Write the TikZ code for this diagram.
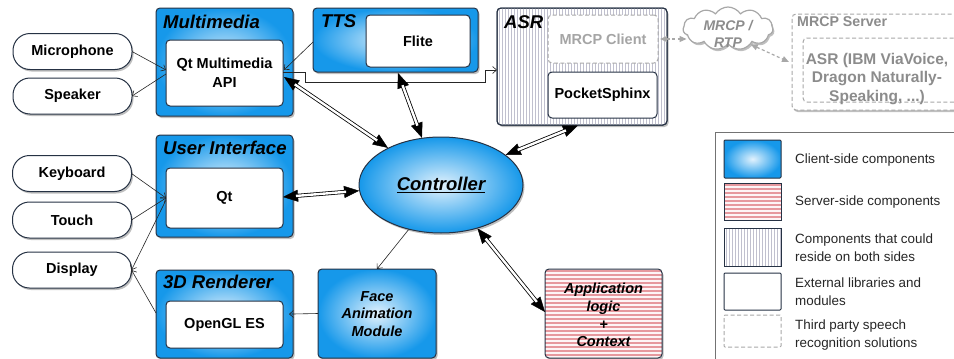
\documentclass[tikz,border=0pt]{standalone}
\usepackage{fontspec}
\setmainfont{Liberation Sans}
\usetikzlibrary{arrows.meta,shadows,shapes.symbols,shapes.geometric,calc}

\definecolor{bluedeep}{RGB}{22,152,234}
\definecolor{bluelight}{RGB}{226,242,253}
\definecolor{edgedark}{RGB}{38,50,68}
\definecolor{stripered}{RGB}{230,152,158}
\definecolor{pinkbase}{RGB}{253,244,246}
\definecolor{stripegray}{RGB}{192,192,206}
\definecolor{thirdgray}{RGB}{168,168,168}
\definecolor{thirdtext}{RGB}{140,140,140}
\definecolor{clienttext}{RGB}{165,165,165}

\tikzset{
  softshadow/.style={drop shadow={shadow xshift=1.5pt, shadow yshift=-2pt, opacity=0.25, fill=black}},
  boxbase/.style={inner sep=0pt, outer sep=0pt, rounded corners=4pt},
  clientbox/.style={boxbase, draw=edgedark, line width=1pt, shade, shading=radial,
    inner color=bluelight, outer color=bluedeep, softshadow},
  libbox/.style={boxbase, draw=edgedark, line width=1pt, fill=white, align=center,
    font=\bfseries\fontsize{14.5}{19}\selectfont},
  thirdbox/.style={boxbase, draw=thirdgray, line width=1pt, dash pattern=on 4pt off 2.5pt},
  pill/.style={draw=edgedark, line width=1pt, rounded corners=17pt, fill=white,
    inner sep=0pt, outer sep=0pt, minimum width=119pt, minimum height=36pt,
    font=\bfseries\fontsize{14.5}{17}\selectfont, softshadow},
  boxtitle/.style={anchor=west, inner sep=0pt, font=\bfseries\itshape\fontsize{18.5}{20}\selectfont},
  bodytext/.style={align=center, inner sep=0pt, font=\bfseries\itshape\fontsize{14.5}{17.8}\selectfont},
  legendtext/.style={anchor=west, align=left, inner sep=0pt, text=black!85,
    font=\fontsize{13.4}{18}\selectfont},
  thinarrow/.style={draw=black!85, line width=0.6pt,
    -{Straight Barb[length=4pt,width=7pt]}},
  % heads of a two-way link, on a hairline that the shaft hides
  tipline/.style={draw=black, line width=0.4pt,
    {Triangle[length=15pt,width=12pt]}-{Triangle[length=15pt,width=12pt]}},
  % hollow two-way shaft
  dblshaft/.style={draw=black, line width=0.8pt, double=white, double distance=2.4pt,
    shorten <=13pt, shorten >=13pt},
  grayarrow/.style={draw=thirdgray, line width=1.2pt, dash pattern=on 3pt off 2.5pt,
    {Triangle[length=7pt,width=6pt]}-{Triangle[length=7pt,width=6pt]}},
}
\newcommand{\biarrow}[2]{\draw[tipline] #1 -- #2; \draw[dblshaft] #1 -- #2;}

\begin{document}
\begin{tikzpicture}[x=1pt, y=-1pt]
\useasboundingbox (0,0) rectangle (954,359);
\fill[white] (0,0) rectangle (954,359);

% ---------- devices on the left ----------
\node[pill] (mic)   at (72.5,51.5) {Microphone};
\node[pill] (spk)   at (72.5,96)   {Speaker};
\node[pill] (kbd)   at (72,173.5)  {Keyboard};
\node[pill] (touch) at (72,220)    {Touch};
\node[pill] (disp)  at (72,270)    {Display};

% ---------- Multimedia ----------
\node[clientbox, minimum width=137pt, minimum height=108pt] (mm) at (224.5,62) {};
\node[boxtitle] (mmtitle) at (163,22) {Multimedia};
\node[libbox, minimum width=117pt, minimum height=66pt] (api) at (224.5,73) {Qt Multimedia\\API};

% ---------- TTS ----------
\node[clientbox, minimum width=165pt, minimum height=64pt] (tts) at (395.5,40) {};
\node[boxtitle] (ttstitle) at (321,21) {TTS};
\node[libbox, minimum width=104pt, minimum height=52pt] (flite) at (418,41) {Flite};

% ---------- ASR (striped) ----------
\node[boxbase, draw=edgedark, line width=1pt, fill=white, softshadow,
      minimum width=170pt, minimum height=117pt] (asr) at (582,66.5) {};
\begin{scope}
  \clip[rounded corners=4pt] (asr.south west) rectangle (asr.north east);
  \foreach \x in {499,502,...,667} \draw[stripegray, line width=0.8pt] (\x,8) -- (\x,126);
\end{scope}
\draw[edgedark, line width=1pt, rounded corners=4pt] (asr.south west) rectangle (asr.north east);
\node[boxtitle] (asrtitle) at (504,22) {ASR};
\node[thirdbox, fill=white, minimum width=110pt, minimum height=48pt,
      text=clienttext, font=\bfseries\fontsize{14.5}{17}\selectfont] (mrcpc) at (603,39) {MRCP Client};
\node[libbox, minimum width=109pt, minimum height=46pt] (sphinx) at (602.5,95) {PocketSphinx};

% ---------- MRCP / RTP cloud ----------
\node[cloud, cloud puffs=11, cloud puff arc=115, aspect=2.1, draw=thirdgray, line width=1.2pt,
      fill=white, softshadow, minimum width=90pt, minimum height=43pt, inner sep=0pt] (cloud) at (728,28.5) {};
\node[align=center, inner sep=0pt, text=thirdtext,
      font=\bfseries\itshape\fontsize{14}{17}\selectfont] (cloudtext) at ($(cloud.center)+(0,5)$) {MRCP /\\RTP};

% ---------- MRCP Server ----------
\node[thirdbox, fill=white, softshadow, minimum width=183pt, minimum height=96pt] (mrcps) at (883.5,62) {};
\node[anchor=west, inner sep=0pt, text=thirdtext,
      font=\bfseries\fontsize{14.2}{17}\selectfont] (mrcpstitle) at (797,22) {MRCP Server};
\node[thirdbox, minimum width=161pt, minimum height=64pt] (vendor) at (883.5,70) {};
\node[align=center, inner sep=0pt, text=thirdtext,
      font=\bfseries\fontsize{15.5}{18.5}\selectfont] (vendortext) at (877,79)
      {ASR (IBM ViaVoice,\\Dragon Naturally-\\Speaking, ...)};

% ---------- User Interface ----------
\node[clientbox, minimum width=137pt, minimum height=102pt] (ui) at (224.5,186) {};
\node[boxtitle] (uititle) at (163,148) {User Interface};
\node[libbox, minimum width=117pt, minimum height=60pt] (qt) at (224.5,198) {Qt};

% ---------- 3D Renderer ----------
\node[clientbox, minimum width=137pt, minimum height=88pt] (r3d) at (224.5,314) {};
\node[boxtitle] (r3dtitle) at (163,282) {3D Renderer};
\node[libbox, minimum width=117pt, minimum height=47pt] (gles) at (224.5,324.5) {OpenGL ES};

% ---------- Controller ----------
\node[ellipse, draw=edgedark, line width=1pt, shade, shading=radial, inner color=bluelight,
      outer color=bluedeep, softshadow, minimum width=164pt, minimum height=96pt, inner sep=0pt,
      font=\bfseries\itshape\fontsize{18.5}{20}\selectfont] (ctrl) at (441,185) {\underline{Controller}};

% ---------- Face Animation Module ----------
\node[clientbox, minimum width=118pt, minimum height=89pt] (face) at (377,313.5) {};
\node[bodytext] (facetext) at (377,314) {Face\\Animation\\Module};

% ---------- Application logic (striped) ----------
\node[boxbase, fill=pinkbase, softshadow, minimum width=117pt, minimum height=89pt] (app) at (603.5,313.5) {};
\begin{scope}
  \clip[rounded corners=4pt] (app.south west) rectangle (app.north east);
  \foreach \y in {271,275,...,359} \draw[stripered, line width=1.1pt] (545,\y) -- (663,\y);
\end{scope}
\draw[edgedark, line width=1pt, rounded corners=4pt] (app.south west) rectangle (app.north east);
\node[bodytext] (apptext) at (603.5,315) {Application\\logic\\+\\Context};

% ---------- legend ----------
\node[draw=black!55, line width=1pt, fill=white, inner sep=0pt, outer sep=0pt,
      minimum width=270pt, minimum height=250pt] (legend) at (850,257) {};
\node[boxbase, rounded corners=1pt, draw=edgedark, line width=1pt, shade, shading=radial,
      inner color=bluelight, outer color=bluedeep, minimum width=57pt, minimum height=38pt] (lgclient) at (752.5,159) {};
\node[boxbase, rounded corners=1pt, fill=pinkbase, minimum width=57pt, minimum height=37pt] (lgserver) at (752.5,201.5) {};
\begin{scope}
  \clip (lgserver.south west) rectangle (lgserver.north east);
  \foreach \y in {185,189,...,221} \draw[stripered, line width=1.1pt] (724,\y) -- (781,\y);
\end{scope}
\draw[edgedark, line width=1pt] (lgserver.south west) rectangle (lgserver.north east);
\node[boxbase, rounded corners=1pt, fill=white, minimum width=57pt, minimum height=38pt] (lgboth) at (752.5,247) {};
\begin{scope}
  \clip (lgboth.south west) rectangle (lgboth.north east);
  \foreach \x in {726,729,...,781} \draw[stripegray, line width=0.8pt] (\x,228) -- (\x,266);
\end{scope}
\draw[edgedark, line width=1pt] (lgboth.south west) rectangle (lgboth.north east);
\node[boxbase, rounded corners=1pt, draw=edgedark, line width=1pt, fill=white,
      minimum width=57pt, minimum height=37pt] (lgext) at (752.5,291.5) {};
\node[thirdbox, rounded corners=1pt, minimum width=57pt, minimum height=32pt] (lgthird) at (752.5,331) {};

\node[legendtext] (tclient) at (795,160) {Client-side components};
\node[legendtext] (tserver) at (795,202) {Server-side components};
\node[legendtext] (tboth)   at (795,248) {Components that could\\reside on both sides};
\node[legendtext] (text)    at (795,292) {External libraries and\\modules};
\node[legendtext] (tthird)  at (795,335.5) {Third party speech\\recognition solutions};

% ---------- thin data-flow arrows ----------
\draw[thinarrow] (mic.east) -- ($(api.west)+(0,-3)$);
\draw[thinarrow] ($(api.west)+(0,1)$) -- (spk.east);
\draw[thinarrow] ($(tts.west)+(0,2)$) -- ($(api.east)+(1,-3)$);
\draw[thinarrow] ($(api.east)+(0,-1)$) -- ++(22,0) -- ++(0,10) -- ++(180,0) -- ++(0,-12)
      -- ($(asr.west)+(0,3.5)$);
\draw[thinarrow] (kbd.east) -- (qt.west);
\draw[thinarrow] (touch.east) -- (qt.west);
\draw[thinarrow] ($(qt.west)+(0,2)$) -- (disp.east);
\draw[thinarrow] ($(r3d.west)+(0,-1)$) -- (disp.east);
\draw[thinarrow] (ctrl.234) -- (face.north);
\draw[thinarrow, shorten >=-4pt] (face.west) -- (r3d.east);

% ---------- controller links ----------
\biarrow{($(api.east)+(1,4)$)}{(ctrl.145)}
\biarrow{($(tts.south)+(2.5,1)$)}{(ctrl.112)}
\biarrow{($(asr.south)+(-4,0.5)$)}{(ctrl.25)}
\biarrow{($(qt.east)+(0,-1)$)}{(ctrl.184)}
\biarrow{(ctrl.310)}{($(app.west)+(0,-1.5)$)}

% ---------- third party links ----------
\draw[grayarrow] ($(mrcpc.east)+(2,0)$) -- ($(mrcpc.east -| cloud.west)+(4,0)$);
\draw[grayarrow] (cloud.-35) -- ($(mrcps.west)+(-3,0)$);
\end{tikzpicture}
\end{document}
